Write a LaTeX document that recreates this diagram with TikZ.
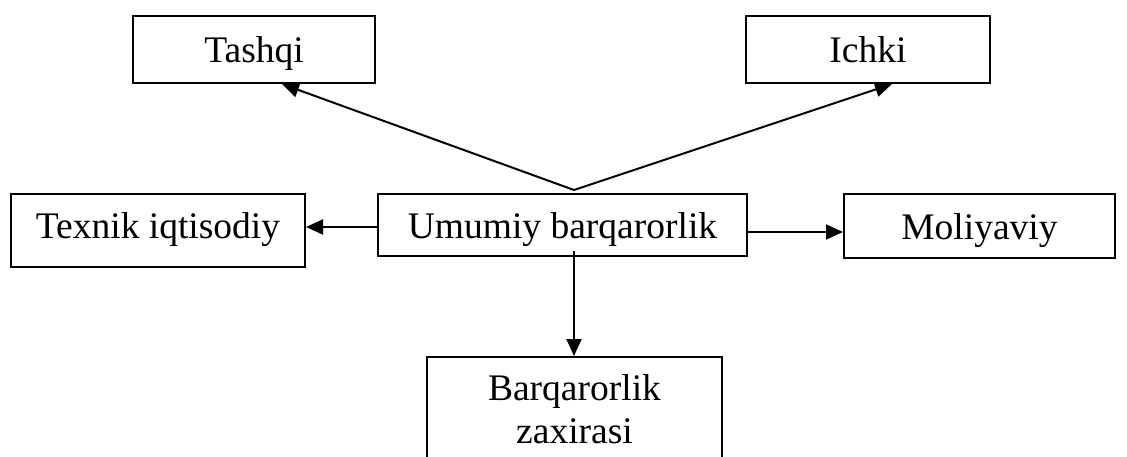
\documentclass[tikz,border=0pt]{standalone}
\usepackage{fontspec}
\setmainfont{Liberation Serif}
\usetikzlibrary{arrows.meta,calc}
\begin{document}
\begin{tikzpicture}[x=1pt,y=1pt,
  box/.style={draw=black, line width=2pt, inner sep=0pt, text height=27pt, text depth=0pt, font=\fontsize{37.5}{43}\selectfont},
  txt/.style={inner sep=0pt, font=\fontsize{37.5}{43}\selectfont, align=center},
  arr/.style={draw=black, line width=2pt, -{Triangle[length=17pt,width=15pt]}}]
\useasboundingbox (0,0) rectangle (1127,-457);
\node[box, minimum width=242, minimum height=67] (tashqi) at (254,-49.5) {Tashqi};
\node[box, minimum width=244, minimum height=67] (ichki) at (868,-49.5) {Ichki};
\node[box, minimum width=294, minimum height=73, text height=17pt] (texnik) at (158,-230.5) {Texnik iqtisodiy};
\node[box, minimum width=369, minimum height=62] (umumiy) at (562.5,-225) {Umumiy barqarorlik};
\node[box, minimum width=271, minimum height=64] (moliya) at (979.5,-226) {Moliyaviy};
\node[box, anchor=north, minimum width=295, minimum height=150] (barq) at (574.5,-356) {};
\node[txt, anchor=base] (barqtxt) at (574.5,-443) {Barqarorlik\\zaxirasi};
\coordinate (apex) at (574,-190);
\coordinate (lA) at ($(umumiy.west)+(0,-2)$);
\coordinate (rA) at ($(umumiy.east)+(0,-7)$);
\coordinate (dA) at ($(umumiy.south)+(11.5,6)$);
\draw[arr] (apex) -- ($(tashqi.south west)+(150,0)$);
\draw[arr] (apex) -- ($(ichki.south west)+(147,0)$);
\draw[arr] (lA) -- (lA -| texnik.east);
\draw[arr] (rA) -- (rA -| moliya.west);
\draw[arr] (dA) -- (dA |- barq.north);
\end{tikzpicture}
\end{document}
